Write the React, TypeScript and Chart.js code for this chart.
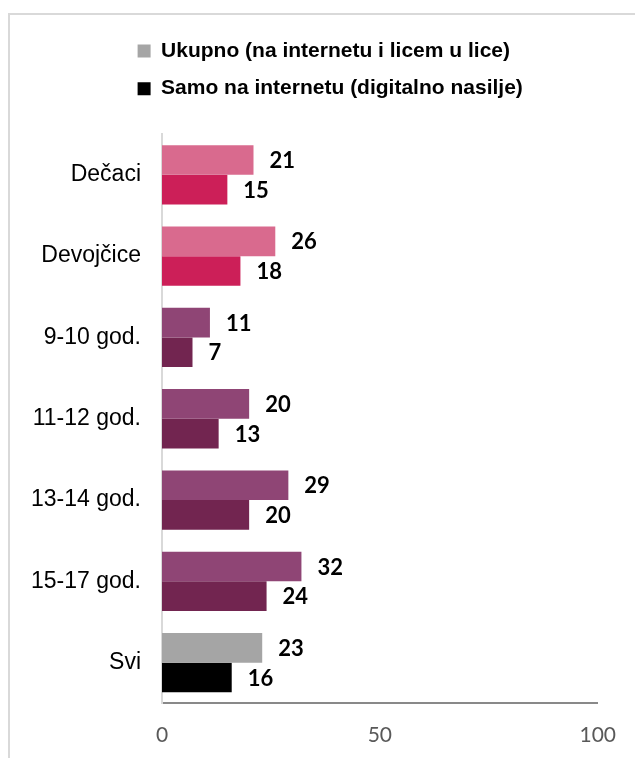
import { useEffect, useRef } from 'react';
import { Chart, registerables } from 'chart.js';

Chart.register(...registerables);

const categories = ['Dečaci', 'Devojčice', '9-10 god.', '11-12 god.', '13-14 god.', '15-17 god.', 'Svi'];
const seriesNames = ['Ukupno (na internetu i licem u lice)', 'Samo na internetu (digitalno nasilje)'];
const ukupno = [21, 26, 11, 20, 29, 32, 23];
const samoInternet = [15, 18, 7, 13, 20, 24, 16];
const xMin = 0;
const xMax = 100;
const xStep = 50;

const ukupnoColors = ['#D96A8E', '#D96A8E', '#8F4575', '#8F4575', '#8F4575', '#8F4575', '#A5A5A5'];
const samoColors = ['#CC1F58', '#CC1F58', '#722550', '#722550', '#722550', '#722550', '#000000'];
const legendColors = ['#A5A5A5', '#000000'];

const valueLabels = {
  id: 'valueLabels',
  afterDatasetsDraw(chart: any) {
    const ctx = chart.ctx;
    ctx.save();
    ctx.font = 'bold 22px Lato';
    ctx.fillStyle = '#000000';
    ctx.textAlign = 'left';
    ctx.textBaseline = 'middle';
    chart.data.datasets.forEach((ds: any, di: number) => {
      const meta = chart.getDatasetMeta(di);
      meta.data.forEach((el: any, i: number) => {
        ctx.fillText(String(ds.data[i]), el.x + 16, el.y + 1);
      });
    });
    ctx.restore();
  },
};

// Legend block is left-aligned, starting a bit left of the plot area.
const legendOffset = {
  id: 'legendOffset',
  afterLayout(chart: any) {
    if (chart.legend) {
      chart.legend.left = 121;
    }
  },
};

export default function App() {
  const canvasRef = useRef<HTMLCanvasElement | null>(null);

  useEffect(() => {
    const canvas = canvasRef.current;
    if (!canvas) return;
    const chart = new Chart(canvas, {
      type: 'bar',
      data: {
        labels: categories,
        datasets: [
          {
            label: seriesNames[0],
            data: ukupno,
            backgroundColor: ukupnoColors,
            borderWidth: 0,
            categoryPercentage: 0.73,
            barPercentage: 1.0,
          },
          {
            label: seriesNames[1],
            data: samoInternet,
            backgroundColor: samoColors,
            borderWidth: 0,
            categoryPercentage: 0.73,
            barPercentage: 1.0,
          },
        ],
      },
      options: {
        indexAxis: 'y',
        animation: false,
        responsive: false,
        devicePixelRatio: 1,
        color: '#000000',
        layout: { padding: { top: 24, right: 35, bottom: 0, left: 0 } },
        plugins: {
          tooltip: { enabled: false },
          legend: {
            display: true,
            position: 'top',
            align: 'start',
            labels: {
              boxWidth: 13,
              boxHeight: 13,
              padding: 16.6,
              color: '#000000',
              font: { family: '"Liberation Sans", Arial, sans-serif', size: 21, weight: 'bold' },
              generateLabels: (chart: any) =>
                chart.data.datasets.map((ds: any, i: number) => ({
                  text: ds.label,
                  fillStyle: legendColors[i],
                  strokeStyle: legendColors[i],
                  lineWidth: 0,
                  hidden: false,
                  datasetIndex: i,
                  fontColor: '#000000',
                })),
            },
          },
          title: {
            display: true,
            text: '',
            weight: 500,
            font: { size: 10, lineHeight: 1 },
            padding: { top: 0, bottom: 15 },
          },
        },
        scales: {
          x: {
            type: 'linear',
            min: xMin,
            max: xMax,
            ticks: {
              stepSize: xStep,
              color: '#595959',
              font: { family: 'Lato, sans-serif', size: 21 },
              padding: 19,
            },
            grid: { display: false, drawTicks: false },
            border: { display: true, color: '#898989', width: 2 },
            afterFit: (scale: any) => {
              scale.height = 54.7;
            },
          },
          y: {
            type: 'category',
            ticks: {
              color: '#000000',
              font: { family: '"Liberation Sans", Arial, sans-serif', size: 23 },
              padding: 21,
            },
            grid: { display: false, drawTicks: false },
            border: { display: true, color: '#D9D9D9', width: 2 },
            afterFit: (scale: any) => {
              scale.width = 162;
            },
          },
        },
      },
      plugins: [valueLabels, legendOffset],
    });
    return () => chart.destroy();
  }, []);

  return (
    <div style={{ position: 'fixed', left: 0, top: 0, width: 635, height: 758, overflow: 'hidden', background: '#ffffff' }}>
      <div
        style={{
          position: 'absolute',
          left: 8,
          top: 13,
          width: 700,
          height: 800,
          borderTop: '2px solid #D9D9D9',
          borderLeft: '2px solid #D9D9D9',
        }}
      />
      <canvas
        ref={canvasRef}
        width={635}
        height={758}
        style={{ position: 'absolute', left: 0, top: 0, width: 635, height: 758 }}
      />
    </div>
  );
}
